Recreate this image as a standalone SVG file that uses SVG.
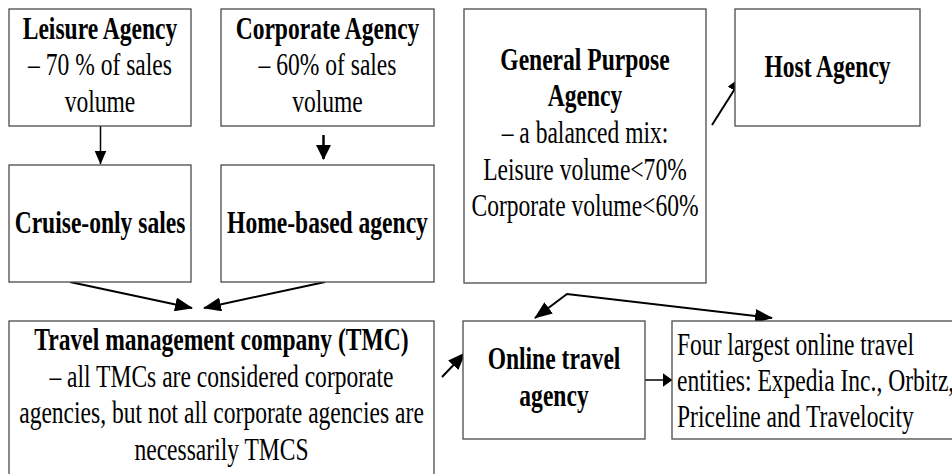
<svg xmlns="http://www.w3.org/2000/svg" width="952" height="474" viewBox="0 0 952 474" font-family="Liberation Serif, serif">
<style>
rect{fill:#fff;stroke:#4a4a4a;stroke-width:1.3}
text{font-family:Liberation Serif, serif;font-size:31px;fill:#000;text-anchor:middle}
.b{font-weight:bold}
.l{text-anchor:start}
.c line,.c path{stroke:#000;stroke-width:2;fill:none}
</style>
<defs>
<marker id="ah" viewBox="0 0 18 14" refX="17" refY="7" markerWidth="18" markerHeight="14" markerUnits="userSpaceOnUse" orient="auto-start-reverse"><path d="M0,0 L18,7 L0,14 z" fill="#000"/></marker>
<marker id="am" viewBox="0 0 15 15" refX="14" refY="7.5" markerWidth="15" markerHeight="15" markerUnits="userSpaceOnUse" orient="auto"><path d="M0,0 L15,7.5 L0,15 z" fill="#000"/></marker>
<marker id="as" viewBox="0 0 14 12" refX="13.5" refY="6" markerWidth="14" markerHeight="12" markerUnits="userSpaceOnUse" orient="auto"><path d="M0,0 L14,6 L0,12 z" fill="#000"/></marker>
<marker id="ax" viewBox="0 0 10 14" refX="9.5" refY="7" markerWidth="10" markerHeight="14" markerUnits="userSpaceOnUse" orient="auto"><path d="M0,0 L10,7 L0,14 z" fill="#000"/></marker>
</defs>
<rect x="0" y="0" width="952" height="474" style="stroke:none"/>
<g class="c" id="connectors">
<line x1="100.5" y1="126" x2="100.5" y2="164" style="stroke-width:1.5" marker-end="url(#as)"/>
<line x1="323.5" y1="135" x2="323.5" y2="159" style="stroke-width:2.5" marker-end="url(#am)"/>
<line x1="70" y1="282" x2="192" y2="308" marker-end="url(#ah)"/>
<line x1="325" y1="282" x2="204" y2="308" marker-end="url(#ah)"/>
<line x1="712" y1="125" x2="743" y2="76" marker-end="url(#ah)"/>
<path d="M535,318 L567,294 L772,318" marker-start="url(#ah)" marker-end="url(#ah)"/>
<line x1="442" y1="377" x2="465" y2="353" marker-end="url(#ah)"/>
<line x1="645" y1="380" x2="672" y2="380" style="stroke-width:1.5" marker-end="url(#ax)"/>
</g>
<g id="leisure"><rect x="9" y="9" width="182" height="117"/>
<g transform="matrix(0.76 0 0 1 100 0)">
<text x="0" y="39" class="b">Leisure Agency</text>
<text x="0" y="75">– 70 % of sales</text>
<text x="0" y="112">volume</text></g></g>
<g id="corporate"><rect x="221" y="9" width="213" height="117"/>
<g transform="matrix(0.76 0 0 1 327.5 0)">
<text x="0" y="39" class="b">Corporate Agency</text>
<text x="0" y="75">– 60% of sales</text>
<text x="0" y="112">volume</text></g></g>
<g id="cruise"><rect x="9" y="165" width="182" height="117"/>
<g transform="matrix(0.76 0 0 1 100 0)">
<text x="0" y="233" class="b">Cruise-only sales</text></g></g>
<g id="home"><rect x="221" y="165" width="213" height="117"/>
<g transform="matrix(0.76 0 0 1 327.5 0)">
<text x="0" y="233" class="b">Home-based agency</text></g></g>
<g id="general"><rect x="464" y="9" width="242" height="274"/>
<g transform="matrix(0.76 0 0 1 585 0)">
<text x="0" y="70" class="b">General Purpose</text>
<text x="0" y="106" class="b">Agency</text>
<text x="0" y="143">– a balanced mix:</text>
<text x="0" y="180">Leisure volume&lt;70%</text>
<text x="0" y="216">Corporate volume&lt;60%</text></g></g>
<g id="host"><rect x="735" y="9" width="185" height="117"/>
<g transform="matrix(0.76 0 0 1 827.5 0)">
<text x="0" y="77" class="b">Host Agency</text></g></g>
<g id="tmc"><rect x="9" y="321" width="425" height="160"/>
<g transform="matrix(0.76 0 0 1 221.5 0)">
<text x="0" y="350" class="b">Travel management company (TMC)</text>
<text x="0" y="387">– all TMCs are considered corporate</text>
<text x="0" y="423">agencies, but not all corporate agencies are</text>
<text x="0" y="460">necessarily TMCS</text></g></g>
<g id="online"><rect x="463" y="321" width="182" height="118"/>
<g transform="matrix(0.76 0 0 1 554 0)">
<text x="0" y="369" class="b">Online travel</text>
<text x="0" y="406" class="b">agency</text></g></g>
<g id="four"><rect x="672" y="321" width="290" height="118"/>
<g transform="matrix(0.76 0 0 1 677 0)">
<text x="0" y="355" class="l">Four largest online travel</text>
<text x="0" y="391" class="l">entities: Expedia Inc., Orbitz,</text>
<text x="0" y="427" class="l">Priceline and Travelocity</text></g></g>
</svg>
